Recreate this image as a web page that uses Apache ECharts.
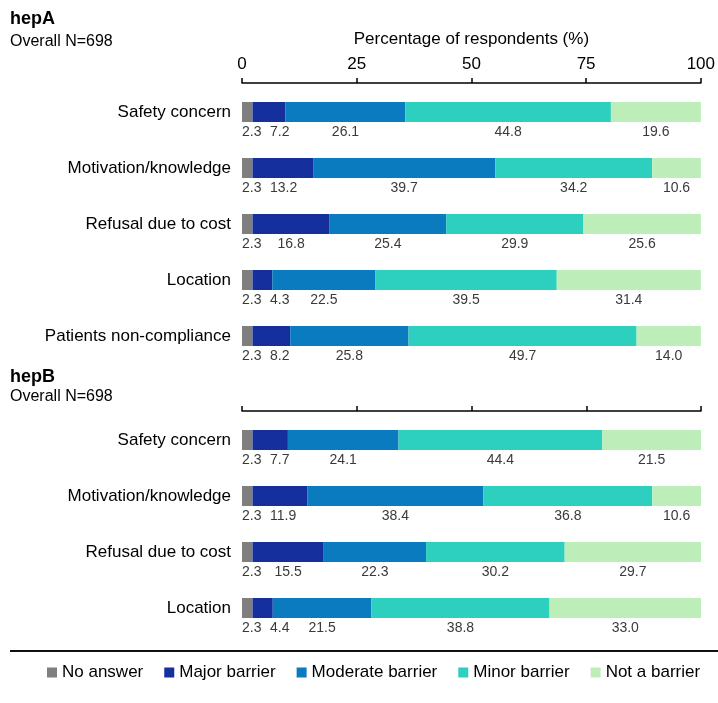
<!DOCTYPE html>
<html>
<head>
<meta charset="utf-8">
<script src="https://cdn.jsdelivr.net/npm/echarts@6/dist/echarts.min.js"></script>
<style>
  html, body { margin: 0; padding: 0; background: #fff; }
  #chart { width: 718px; height: 703px; }
</style>
</head>
<body>
<div id="chart"></div>
<script>
// Barrier categories for each vaccine panel
const categoriesA = ['Safety concern', 'Motivation/knowledge', 'Refusal due to cost', 'Location', 'Patients non-compliance'];
const categoriesB = ['Safety concern', 'Motivation/knowledge', 'Refusal due to cost', 'Location'];

// Response levels (stack order, left to right)
const levels = ['No answer', 'Major barrier', 'Moderate barrier', 'Minor barrier', 'Not a barrier'];

// hepA percentages per response level
const noAnswerA = [2.3, 2.3, 2.3, 2.3, 2.3];
const majorA    = [7.2, 13.2, 16.8, 4.3, 8.2];
const moderateA = [26.1, 39.7, 25.4, 22.5, 25.8];
const minorA    = [44.8, 34.2, 29.9, 39.5, 49.7];
const notA      = [19.6, 10.6, 25.6, 31.4, 14.0];

// hepB percentages per response level
const noAnswerB = [2.3, 2.3, 2.3, 2.3];
const majorB    = [7.7, 11.9, 15.5, 4.4];
const moderateB = [24.1, 38.4, 22.3, 21.5];
const minorB    = [44.4, 36.8, 30.2, 38.8];
const notB      = [21.5, 10.6, 29.7, 33.0];

// Axis ticks
const axisMin = 0, axisMax = 100, axisStep = 25;

const colors = ['#7f7f7f', '#152f9c', '#0a7bbf', '#2dcfbe', '#bdeeb9'];
const FONT = '"Liberation Sans", Arial, sans-serif';
const GRID_LEFT = 242;

const valuesA = [noAnswerA, majorA, moderateA, minorA, notA];
const valuesB = [noAnswerB, majorB, moderateB, minorB, notB];

// Value labels sit under each segment; the first two are nudged so the
// narrow segments' numbers don't collide.
function labelLayoutFor(levelIdx) {
  if (levelIdx === 0) {
    return function (p) {
      return {
        x: p.rect.x,
        y: p.labelRect.y + p.labelRect.height / 2,
        align: 'left',
        verticalAlign: 'middle'
      };
    };
  }
  if (levelIdx === 1) {
    return function (p) {
      const cx = p.rect.x + p.rect.width / 2;
      const minCx = GRID_LEFT + 28 + p.labelRect.width / 2;
      return {
        x: Math.max(cx, minCx),
        y: p.labelRect.y + p.labelRect.height / 2,
        align: 'center',
        verticalAlign: 'middle'
      };
    };
  }
  return null;
}

function makeSeries(values, gridIdx, stackId) {
  return values.map(function (arr, i) {
    const s = {
      name: levels[i],
      type: 'bar',
      stack: stackId,
      xAxisIndex: gridIdx,
      yAxisIndex: gridIdx,
      barWidth: 20,
      data: arr,
      itemStyle: { color: colors[i] },
      label: {
        show: true,
        position: 'bottom',
        distance: 3,
        fontFamily: FONT,
        fontSize: 14,
        color: '#3a3a3a',
        formatter: function (p) { return Number(p.value).toFixed(1); }
      },
      emphasis: { disabled: true }
    };
    const lay = labelLayoutFor(i);
    if (lay) s.labelLayout = lay;
    return s;
  });
}

function xAxisFor(gridIdx, withLabels) {
  return {
    type: 'value',
    gridIndex: gridIdx,
    position: 'top',
    min: axisMin,
    max: axisMax,
    interval: axisStep,
    offset: 1,
    name: withLabels ? 'Percentage of respondents (%)' : '',
    nameLocation: 'middle',
    nameGap: 35,
    nameTextStyle: { fontFamily: FONT, fontSize: 17, color: '#000' },
    axisLine: { show: true, lineStyle: { color: '#000', width: 1.5 } },
    axisTick: { show: true, length: 5, lineStyle: { color: '#000', width: 1.5 } },
    axisLabel: { show: withLabels, fontFamily: FONT, fontSize: 17, color: '#000', margin: 10 },
    splitLine: { show: false }
  };
}

function yAxisFor(gridIdx, cats) {
  return {
    type: 'category',
    gridIndex: gridIdx,
    data: cats,
    inverse: true,
    axisLine: { show: false },
    axisTick: { show: false },
    axisLabel: { fontFamily: FONT, fontSize: 17, color: '#000', margin: 11 }
  };
}

const chart = echarts.init(document.getElementById('chart'), null, { renderer: 'canvas' });

chart.setOption({
  animation: false,
  backgroundColor: '#fff',
  textStyle: { fontFamily: FONT },
  title: [
    { text: 'hepA', left: 10, top: 10, padding: 0, textStyle: { fontFamily: FONT, fontSize: 18, fontWeight: 'bold', color: '#000' } },
    { text: 'Overall N=698', left: 10, top: 34, padding: 0, textStyle: { fontFamily: FONT, fontSize: 16, fontWeight: 'normal', color: '#000' } },
    { text: 'hepB', left: 10, top: 368, padding: 0, textStyle: { fontFamily: FONT, fontSize: 18, fontWeight: 'bold', color: '#000' } },
    { text: 'Overall N=698', left: 10, top: 389, padding: 0, textStyle: { fontFamily: FONT, fontSize: 16, fontWeight: 'normal', color: '#000' } }
  ],
  grid: [
    { left: GRID_LEFT, right: 17, top: 84, height: 280, containLabel: false },
    { left: GRID_LEFT, right: 17, top: 412, height: 224, containLabel: false }
  ],
  xAxis: [xAxisFor(0, true), xAxisFor(1, false)],
  yAxis: [yAxisFor(0, categoriesA), yAxisFor(1, categoriesB)],
  legend: {
    data: levels,
    left: 42,
    top: 659,
    icon: 'rect',
    itemWidth: 10,
    itemHeight: 10,
    itemGap: 21,
    textStyle: { fontFamily: FONT, fontSize: 17, color: '#000' },
    selectedMode: false
  },
  graphic: [
    {
      type: 'line',
      shape: { x1: 10, y1: 651, x2: 718, y2: 651 },
      style: { stroke: '#111', lineWidth: 2 }
    }
  ],
  series: makeSeries(valuesA, 0, 'A').concat(makeSeries(valuesB, 1, 'B'))
});
</script>
</body>
</html>
